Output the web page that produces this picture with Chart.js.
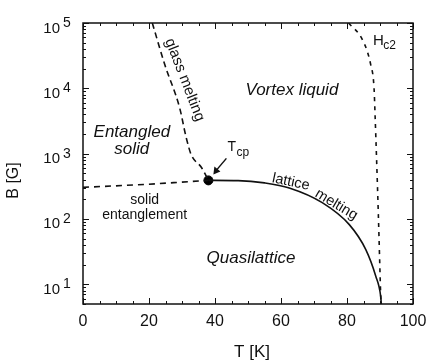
<!DOCTYPE html>
<html>
<head>
<meta charset="utf-8">
<script src="https://cdn.jsdelivr.net/npm/chart.js@4.4.1/dist/chart.umd.min.js"></script>
<style>
  html, body { margin: 0; padding: 0; background: #fff; }
  #wrap { width: 426px; height: 363px; }
  canvas { background: #fff; }
</style>
</head>
<body>
<div id="wrap"><canvas id="myChartFase" width="426" height="363"></canvas></div>
<script>
// Values: T in K, B in G
const glassT = [21, 24.8, 29.3, 31.3, 32.8, 35.9, 38];
const glassB = [100000, 22900, 5000, 1740, 960, 615, 390];

const hc2T = [80.5, 84.7, 87.2, 88.2, 88.5, 89.5, 90.2, 90.3];
const hc2B = [100000, 55000, 22800, 10000, 4000, 117, 7, 5];

const entangleT = [0, 19, 29, 38];
const entangleB = [305, 339, 364, 390];

const latticeT = [38, 47, 55, 62.5, 72.5, 80.7, 85.7, 88.7, 90.2, 90.4];
const latticeB = [390, 387, 357, 299, 178, 82, 34, 13.4, 6.6, 5];

const tcpT = [38];
const tcpB = [390];

const xTicks = [0, 20, 40, 60, 80, 100];
const yTickExps = [1, 2, 3, 4, 5];

const FONT = '"Liberation Sans", Arial, Helvetica, sans-serif';
const INK = '#111';

const toPoints = (xs, ys) => xs.map((t, i) => ({ x: t, y: ys[i] }));

// Frame, inward ticks, tick labels, axis titles and region labels
const phasePlugin = {
    id: 'phasePlugin',
    afterDraw(chart) {
        const ctx = chart.ctx;
        const { left, right, top, bottom } = chart.chartArea;
        const x = chart.scales.x;
        const y = chart.scales.y;

        ctx.save();
        ctx.strokeStyle = INK;
        ctx.fillStyle = INK;

        // frame
        ctx.lineWidth = 1.5;
        ctx.strokeRect(left, top, right - left, bottom - top);

        // x ticks (top and bottom)
        ctx.lineWidth = 1;
        ctx.beginPath();
        for (let t = 0; t <= 100; t += 5) {
            const px = Math.round(x.getPixelForValue(t)) + 0.5;
            const len = t % 20 === 0 ? 6 : 3;
            ctx.moveTo(px, bottom); ctx.lineTo(px, bottom - len);
            ctx.moveTo(px, top); ctx.lineTo(px, top + len);
        }
        // y ticks (left and right)
        for (let d = 0; d <= 5; d++) {
            for (let m = 1; m <= 9; m++) {
                const v = m * Math.pow(10, d);
                if (v < 5 || v > 100000) continue;
                const py = Math.round(y.getPixelForValue(v)) + 0.5;
                const len = m === 1 ? 6 : 3;
                ctx.moveTo(left, py); ctx.lineTo(left + len, py);
                ctx.moveTo(right, py); ctx.lineTo(right - len, py);
            }
        }
        ctx.stroke();

        // x tick labels
        ctx.font = '16px ' + FONT;
        ctx.textAlign = 'center';
        ctx.textBaseline = 'alphabetic';
        xTicks.forEach(t => {
            ctx.fillText(String(t), x.getPixelForValue(t), bottom + 22);
        });

        // y tick labels as 10 with exponent
        yTickExps.forEach(e => {
            const py = y.getPixelForValue(Math.pow(10, e));
            ctx.font = '15px ' + FONT;
            ctx.textAlign = 'right';
            ctx.fillText('10', left - 23, py + 9.5);
            ctx.font = '14px ' + FONT;
            ctx.textAlign = 'left';
            ctx.fillText(String(e), left - 20, py + 4);
        });

        // axis titles
        ctx.font = '17px ' + FONT;
        ctx.textAlign = 'center';
        ctx.fillText('T [K]', (left + right) / 2 + 4, bottom + 53);
        ctx.save();
        ctx.translate(14, (top + bottom) / 2 + 17);
        ctx.rotate(-Math.PI / 2);
        ctx.textBaseline = 'middle';
        ctx.font = '16px ' + FONT;
        ctx.fillText('B [G]', 0, 0);
        ctx.restore();

        // region labels
        const at = (t, b) => [x.getPixelForValue(t), y.getPixelForValue(b)];
        const label = (txt, t, b, font, angle) => {
            const [px, py] = at(t, b);
            ctx.save();
            ctx.translate(px, py);
            ctx.rotate((angle || 0) * Math.PI / 180);
            ctx.font = font;
            ctx.textAlign = 'center';
            ctx.textBaseline = 'middle';
            ctx.fillText(txt, 0, 0);
            ctx.restore();
        };
        const italic = 'italic 17px ' + FONT;
        label('Vortex liquid', 63.3, 9500, italic);
        label('Entangled', 14.8, 2100, italic);
        label('solid', 14.8, 1150, italic);
        label('Quasilattice', 50.9, 25.4, italic);
        label('solid', 18.7, 195, '14px ' + FONT);
        label('entanglement', 18.7, 113, '14px ' + FONT);
        label('glass melting', 30.8, 13500, '15px ' + FONT, 69);
        label('lattice', 63.0, 368, '14.5px ' + FONT, 12);
        label('melting', 76.8, 166, '14.5px ' + FONT, 31);

        // H_c2
        const [hx, hy] = at(87.9, 57000);
        ctx.textAlign = 'left';
        ctx.textBaseline = 'alphabetic';
        ctx.font = '15px ' + FONT;
        ctx.fillText('H', hx, hy + 6);
        ctx.font = '12px ' + FONT;
        ctx.fillText('c2', hx + ctx.measureText('H').width + 1.5, hy + 10);

        // T_cp with arrow to the point
        const [cx, cy] = at(tcpT[0], tcpB[0]);
        ctx.font = '14px ' + FONT;
        ctx.fillText('T', cx + 19, cy - 29);
        ctx.font = '12px ' + FONT;
        ctx.fillText('cp', cx + 28, cy - 24);
        ctx.lineWidth = 1.5;
        ctx.beginPath();
        ctx.moveTo(cx + 18, cy - 22);
        ctx.lineTo(cx + 7, cy - 9);
        ctx.stroke();
        ctx.beginPath();
        ctx.moveTo(cx + 5, cy - 6);
        ctx.lineTo(cx + 6, cy - 14);
        ctx.lineTo(cx + 12, cy - 9);
        ctx.closePath();
        ctx.fill();

        ctx.restore();
    }
};

const ctxFase = document.getElementById('myChartFase').getContext('2d');

const myChartFase = new Chart(ctxFase, {
    type: 'line',
    data: {
        datasets: [{
            label: 'glass melting',
            data: toPoints(glassT, glassB),
            borderColor: INK,
            borderWidth: 1.6,
            borderDash: [6, 4],
            cubicInterpolationMode: 'monotone',
            pointRadius: 0,
            fill: false
        }, {
            label: 'Hc2',
            data: toPoints(hc2T, hc2B),
            borderColor: INK,
            borderWidth: 1.6,
            borderDash: [4, 5],
            cubicInterpolationMode: 'monotone',
            pointRadius: 0,
            fill: false
        }, {
            label: 'solid entanglement',
            data: toPoints(entangleT, entangleB),
            borderColor: INK,
            borderWidth: 1.6,
            borderDash: [6, 5],
            cubicInterpolationMode: 'monotone',
            pointRadius: 0,
            fill: false
        }, {
            label: 'lattice melting',
            data: toPoints(latticeT, latticeB),
            borderColor: INK,
            borderWidth: 1.6,
            cubicInterpolationMode: 'monotone',
            pointRadius: 0,
            fill: false
        }, {
            label: 'Tcp',
            data: toPoints(tcpT, tcpB),
            showLine: false,
            pointRadius: 4.5,
            backgroundColor: '#000',
            borderColor: '#000'
        }]
    },
    options: {
        responsive: false,
        animation: false,
        layout: {
            padding: { left: 83, right: 13, top: 23, bottom: 59 }
        },
        plugins: {
            legend: { display: false },
            tooltip: { enabled: false }
        },
        scales: {
            x: { type: 'linear', min: 0, max: 100, display: false },
            y: { type: 'logarithmic', min: 5, max: 100000, display: false }
        }
    },
    plugins: [phasePlugin]
});
</script>
</body>
</html>
